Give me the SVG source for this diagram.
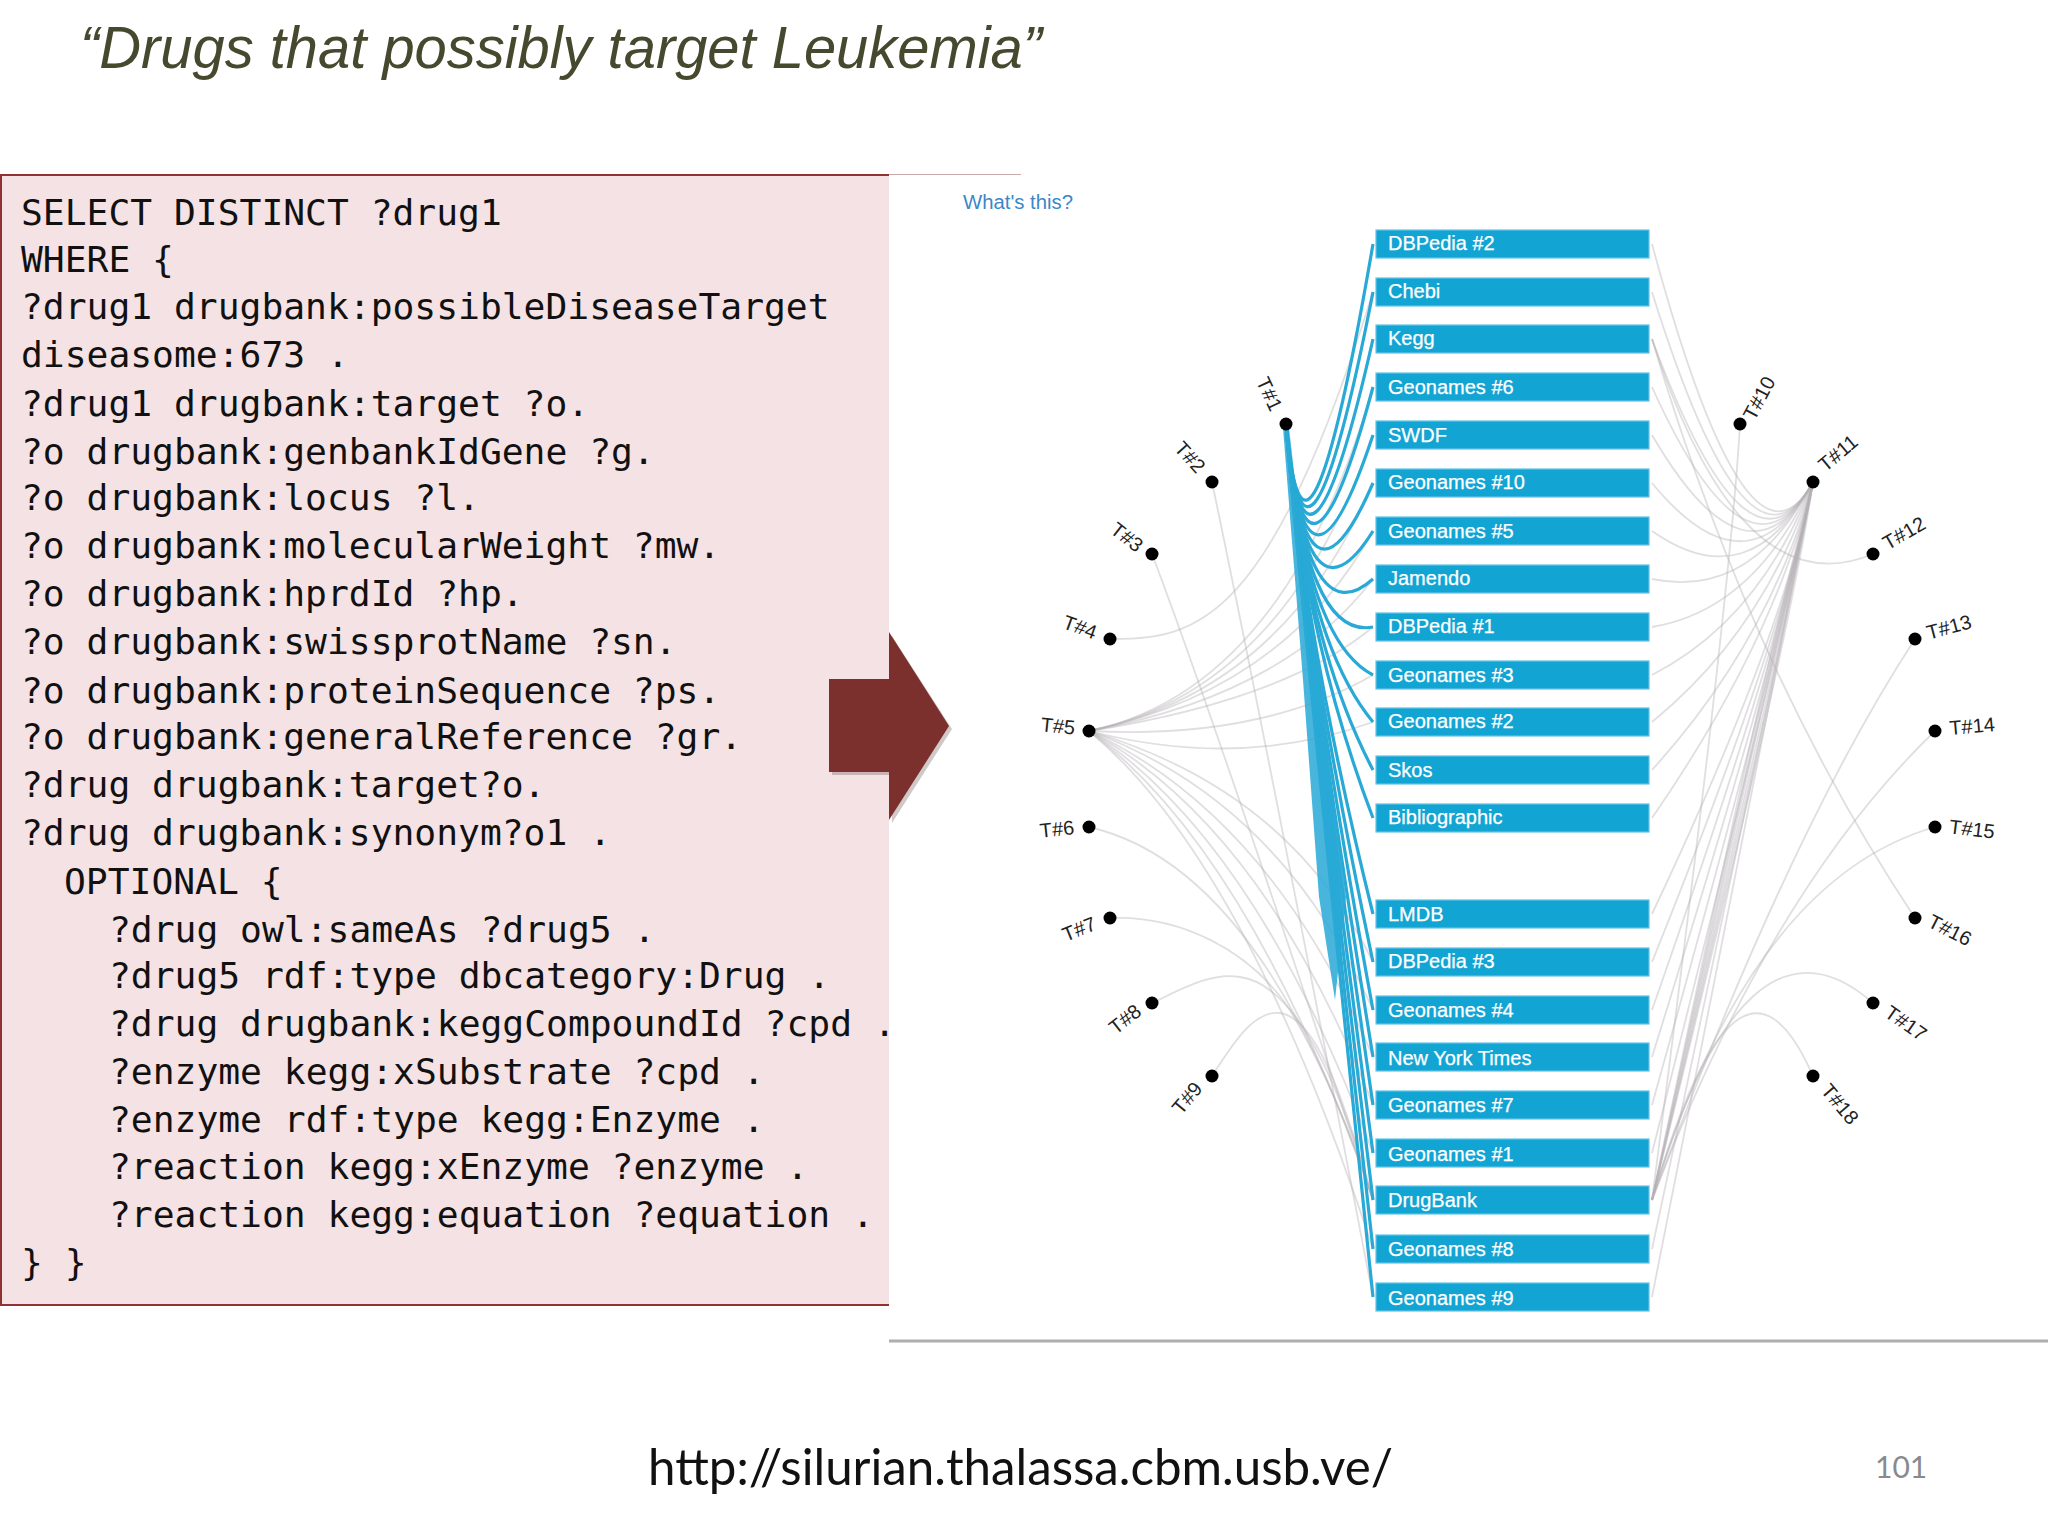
<svg xmlns="http://www.w3.org/2000/svg" width="2048" height="1536" viewBox="0 0 2048 1536">
<style>
.code{font-family:"DejaVu Sans Mono","Liberation Mono",monospace;font-size:36.3px;fill:#111;white-space:pre}
.bar{fill:#12a5d4;stroke:#62c3e6;stroke-width:1.2}
.bt{font-family:"Liberation Sans",Arial,sans-serif;font-size:20px;fill:#fff;stroke:#fff;stroke-width:.25}
.tl{font-family:"Liberation Sans",Arial,sans-serif;font-size:20px;fill:#222;text-anchor:middle}
.dot{fill:#000}
.gl{fill:none;stroke:#b5b1b5;stroke-width:1.8;stroke-opacity:.42}
.bl{fill:none;stroke:#28a9d6;stroke-width:3.2}
</style>
<rect width="2048" height="1536" fill="#fff"/>
<text id="title" x="80" y="68" font-family="'Liberation Sans',Arial,sans-serif" font-style="italic" font-size="60" fill="#47492f" textLength="962" lengthAdjust="spacingAndGlyphs">“Drugs that possibly target Leukemia”</text>
<g id="query">
<rect x="1" y="175" width="888" height="1130" fill="#f5e2e4"/>
<path d="M889,175H1 V1305 H889" fill="none" stroke="#8e3330" stroke-width="2"/>
<path d="M889,174.500H1021" fill="none" stroke="#c9a9ab" stroke-width="1"/>
<text class="code" x="21" y="225">SELECT DISTINCT ?drug1</text>
<text class="code" x="21" y="272">WHERE {</text>
<text class="code" x="21" y="319">?drug1 drugbank:possibleDiseaseTarget</text>
<text class="code" x="21" y="367">diseasome:673 .</text>
<text class="code" x="21" y="416">?drug1 drugbank:target ?o.</text>
<text class="code" x="21" y="464">?o drugbank:genbankIdGene ?g.</text>
<text class="code" x="21" y="510">?o drugbank:locus ?l.</text>
<text class="code" x="21" y="558">?o drugbank:molecularWeight ?mw.</text>
<text class="code" x="21" y="606">?o drugbank:hprdId ?hp.</text>
<text class="code" x="21" y="654">?o drugbank:swissprotName ?sn.</text>
<text class="code" x="21" y="703">?o drugbank:proteinSequence ?ps.</text>
<text class="code" x="21" y="749">?o drugbank:generalReference ?gr.</text>
<text class="code" x="21" y="797">?drug drugbank:target?o.</text>
<text class="code" x="21" y="845">?drug drugbank:synonym?o1 .</text>
<text class="code" x="64" y="894">OPTIONAL {</text>
<text class="code" x="109" y="942">?drug owl:sameAs ?drug5 .</text>
<text class="code" x="109" y="988">?drug5 rdf:type dbcategory:Drug .</text>
<text class="code" x="109" y="1036">?drug drugbank:keggCompoundId ?cpd .</text>
<text class="code" x="109" y="1084">?enzyme kegg:xSubstrate ?cpd .</text>
<text class="code" x="109" y="1132">?enzyme rdf:type kegg:Enzyme .</text>
<text class="code" x="109" y="1179">?reaction kegg:xEnzyme ?enzyme .</text>
<text class="code" x="109" y="1227">?reaction kegg:equation ?equation .</text>
<text class="code" x="21" y="1275">} }</text>
</g>
<polygon points="832,683 892,683 892,636 952,729 892,823 892,775 832,775" fill="#5a3a38" fill-opacity=".28"/>
<polygon id="arrow" points="829,679 889,679 889,632 949,726 889,820 889,772 829,772" fill="#7b302d"/>
<text id="whats" x="963" y="209" font-family="'Liberation Sans',Arial,sans-serif" font-size="20" fill="#3b87c8" textLength="110" lengthAdjust="spacingAndGlyphs">What's this?</text>
<path id="baseline" d="M889,1341H2048" stroke="#aeaeae" stroke-width="3" fill="none"/>
<g id="connectors">
<g class="grey-left">
<path class="gl" d="M1110,639C1200,640 1270,620 1373,292"/>
<path class="gl" d="M1089,731Q1285,690 1373,387"/>
<path class="gl" d="M1089,731Q1285,690 1373,435"/>
<path class="gl" d="M1089,731Q1285,690 1373,483"/>
<path class="gl" d="M1089,731Q1285,690 1373,531"/>
<path class="gl" d="M1089,731Q1285,695 1373,579"/>
<path class="gl" d="M1089,731Q1285,700 1373,627"/>
<path class="gl" d="M1089,731Q1260,740 1373,675"/>
<path class="gl" d="M1089,731Q1240,770 1373,722"/>
<path class="gl" d="M1089,731Q1290,790 1373,962"/>
<path class="gl" d="M1089,731Q1280,800 1373,1010"/>
<path class="gl" d="M1089,731Q1270,815 1373,1057"/>
<path class="gl" d="M1089,731Q1262,825 1373,1105"/>
<path class="gl" d="M1089,731Q1255,838 1373,1153"/>
<path class="gl" d="M1089,731Q1250,850 1373,1200"/>
<path class="gl" d="M1089,731Q1245,860 1373,1249"/>
<path class="gl" d="M1212,482Q1262,720 1373,1297"/>
<path class="gl" d="M1152,554Q1215,720 1373,1200"/>
<path class="gl" d="M1089,827C1190,850 1290,950 1373,1200"/>
<path class="gl" d="M1110,918C1180,915 1250,950 1290,1010C1320,1060 1350,1130 1373,1200"/>
<path class="gl" d="M1152,1003C1180,990 1210,972 1240,977C1300,985 1345,1100 1373,1200"/>
<path class="gl" d="M1212,1076C1235,1040 1255,1010 1280,1013C1320,1018 1350,1120 1373,1200"/>
</g>
<g class="blue">
<path d="M1283,428L1289,428L1318,680L1346,897L1335,1000L1319,897L1303,680Z" fill="#28a9d6" fill-opacity=".85"/>
<path class="bl" d="M1286,424Q1305,640 1373,244"/>
<path class="bl" d="M1286,424Q1305,640 1373,292"/>
<path class="bl" d="M1286,424Q1305,640 1373,339"/>
<path class="bl" d="M1286,424Q1305,640 1373,387"/>
<path class="bl" d="M1286,424Q1305,640 1373,435"/>
<path class="bl" d="M1286,424Q1305,640 1373,483"/>
<path class="bl" d="M1286,424Q1305,640 1373,531"/>
<path class="bl" d="M1286,424Q1305,640 1373,579"/>
<path class="bl" d="M1286,424Q1305,640 1373,627"/>
<path class="bl" d="M1286,424Q1305,640 1373,675"/>
<path class="bl" d="M1286,424Q1305,640 1373,722"/>
<path class="bl" d="M1286,424Q1305,640 1373,770"/>
<path class="bl" d="M1286,424Q1305,640 1373,818"/>
<path class="bl" d="M1286,424Q1305,640 1373,914"/>
<path class="bl" d="M1286,424Q1305,640 1373,962"/>
<path class="bl" d="M1286,424Q1305,640 1373,1010"/>
<path class="bl" d="M1286,424Q1305,640 1373,1057"/>
<path class="bl" d="M1286,424Q1305,640 1373,1105"/>
<path class="bl" d="M1286,424Q1305,640 1373,1153"/>
<path class="bl" d="M1286,424Q1305,640 1373,1200"/>
<path class="bl" d="M1286,424Q1305,640 1373,1249"/>
<path class="bl" d="M1286,424Q1305,640 1373,1297"/>
</g>
<g class="grey-right">
<path class="gl" d="M1813,482Q1748,600 1652,244"/>
<path class="gl" d="M1813,482Q1748,600 1652,292"/>
<path class="gl" d="M1813,482Q1748,600 1652,339"/>
<path class="gl" d="M1813,482Q1748,600 1652,387"/>
<path class="gl" d="M1813,482Q1748,600 1652,435"/>
<path class="gl" d="M1813,482Q1748,600 1652,483"/>
<path class="gl" d="M1813,482Q1750,600 1652,531"/>
<path class="gl" d="M1813,482Q1752,600 1652,579"/>
<path class="gl" d="M1813,482Q1755,610 1652,627"/>
<path class="gl" d="M1813,482Q1760,620 1652,675"/>
<path class="gl" d="M1813,482Q1765,630 1652,722"/>
<path class="gl" d="M1813,482Q1770,640 1652,770"/>
<path class="gl" d="M1813,482Q1775,640 1652,818"/>
<path class="gl" d="M1813,482Q1782,640 1652,914"/>
<path class="gl" d="M1813,482Q1782,640 1652,962"/>
<path class="gl" d="M1813,482Q1782,640 1652,1010"/>
<path class="gl" d="M1813,482Q1782,640 1652,1057"/>
<path class="gl" d="M1813,482Q1782,640 1652,1105"/>
<path class="gl" d="M1813,482Q1782,640 1652,1153"/>
<path class="gl" d="M1813,482Q1782,640 1652,1200"/>
<path class="gl" d="M1813,482Q1786,640 1652,1200"/>
<path class="gl" d="M1813,482Q1790,640 1652,1200"/>
<path class="gl" d="M1813,482Q1778,640 1652,1200"/>
<path class="gl" d="M1813,482Q1774,640 1652,1200"/>
<path class="gl" d="M1813,482Q1770,640 1652,1200"/>
<path class="gl" d="M1813,482Q1782,640 1652,1249"/>
<path class="gl" d="M1813,482Q1782,640 1652,1297"/>
<path class="gl" d="M1740,424Q1730,600 1652,1200"/>
<path class="gl" d="M1873,554Q1740,610 1652,339"/>
<path class="gl" d="M1915,639Q1790,830 1652,1200"/>
<path class="gl" d="M1935,731Q1770,890 1652,1200"/>
<path class="gl" d="M1935,827Q1750,880 1652,1200"/>
<path class="gl" d="M1915,918Q1750,670 1652,339"/>
<path class="gl" d="M1873,1003Q1745,890 1652,1200"/>
<path class="gl" d="M1813,1076Q1738,905 1652,1200"/>
</g>
</g>
<g id="sources">
<g id="s-dbpedia2"><rect class="bar" x="1376" y="230" width="273" height="28"/><text class="bt" x="1388" y="250">DBPedia #2</text></g>
<g id="s-chebi"><rect class="bar" x="1376" y="278" width="273" height="28"/><text class="bt" x="1388" y="298">Chebi</text></g>
<g id="s-kegg"><rect class="bar" x="1376" y="325" width="273" height="28"/><text class="bt" x="1388" y="345">Kegg</text></g>
<g id="s-geonames6"><rect class="bar" x="1376" y="373" width="273" height="28"/><text class="bt" x="1388" y="394">Geonames #6</text></g>
<g id="s-swdf"><rect class="bar" x="1376" y="421" width="273" height="28"/><text class="bt" x="1388" y="442">SWDF</text></g>
<g id="s-geonames10"><rect class="bar" x="1376" y="469" width="273" height="28"/><text class="bt" x="1388" y="489">Geonames #10</text></g>
<g id="s-geonames5"><rect class="bar" x="1376" y="517" width="273" height="28"/><text class="bt" x="1388" y="538">Geonames #5</text></g>
<g id="s-jamendo"><rect class="bar" x="1376" y="565" width="273" height="28"/><text class="bt" x="1388" y="585">Jamendo</text></g>
<g id="s-dbpedia1"><rect class="bar" x="1376" y="613" width="273" height="28"/><text class="bt" x="1388" y="633">DBPedia #1</text></g>
<g id="s-geonames3"><rect class="bar" x="1376" y="661" width="273" height="28"/><text class="bt" x="1388" y="682">Geonames #3</text></g>
<g id="s-geonames2"><rect class="bar" x="1376" y="708" width="273" height="28"/><text class="bt" x="1388" y="728">Geonames #2</text></g>
<g id="s-skos"><rect class="bar" x="1376" y="756" width="273" height="28"/><text class="bt" x="1388" y="777">Skos</text></g>
<g id="s-bibliographic"><rect class="bar" x="1376" y="804" width="273" height="28"/><text class="bt" x="1388" y="824">Bibliographic</text></g>
<g id="s-lmdb"><rect class="bar" x="1376" y="900" width="273" height="28"/><text class="bt" x="1388" y="921">LMDB</text></g>
<g id="s-dbpedia3"><rect class="bar" x="1376" y="948" width="273" height="28"/><text class="bt" x="1388" y="968">DBPedia #3</text></g>
<g id="s-geonames4"><rect class="bar" x="1376" y="996" width="273" height="28"/><text class="bt" x="1388" y="1017">Geonames #4</text></g>
<g id="s-nyt"><rect class="bar" x="1376" y="1043" width="273" height="28"/><text class="bt" x="1388" y="1065">New York Times</text></g>
<g id="s-geonames7"><rect class="bar" x="1376" y="1091" width="273" height="28"/><text class="bt" x="1388" y="1112">Geonames #7</text></g>
<g id="s-geonames1"><rect class="bar" x="1376" y="1139" width="273" height="28"/><text class="bt" x="1388" y="1161">Geonames #1</text></g>
<g id="s-drugbank"><rect class="bar" x="1376" y="1186" width="273" height="28"/><text class="bt" x="1388" y="1207">DrugBank</text></g>
<g id="s-geonames8"><rect class="bar" x="1376" y="1235" width="273" height="28"/><text class="bt" x="1388" y="1256">Geonames #8</text></g>
<g id="s-geonames9"><rect class="bar" x="1376" y="1283" width="273" height="28"/><text class="bt" x="1388" y="1305">Geonames #9</text></g>
</g>
<g id="t1"><circle class="dot" cx="1286" cy="424" r="6.500"/><text class="tl" transform="translate(1269.500,394) rotate(65)" y="7">T#1</text></g>
<g id="t2"><circle class="dot" cx="1212" cy="482" r="6.500"/><text class="tl" transform="translate(1190,457) rotate(48)" y="7">T#2</text></g>
<g id="t3"><circle class="dot" cx="1152" cy="554" r="6.500"/><text class="tl" transform="translate(1127,537) rotate(38)" y="7">T#3</text></g>
<g id="t4"><circle class="dot" cx="1110" cy="639" r="6.500"/><text class="tl" transform="translate(1080,627) rotate(20)" y="7">T#4</text></g>
<g id="t5"><circle class="dot" cx="1089" cy="731" r="6.500"/><text class="tl" transform="translate(1058,726) rotate(6)" y="7">T#5</text></g>
<g id="t6"><circle class="dot" cx="1089" cy="827" r="6.500"/><text class="tl" transform="translate(1057,829) rotate(-6)" y="7">T#6</text></g>
<g id="t7"><circle class="dot" cx="1110" cy="918" r="6.500"/><text class="tl" transform="translate(1079,929) rotate(-22)" y="7">T#7</text></g>
<g id="t8"><circle class="dot" cx="1152" cy="1003" r="6.500"/><text class="tl" transform="translate(1125,1019) rotate(-38)" y="7">T#8</text></g>
<g id="t9"><circle class="dot" cx="1212" cy="1076" r="6.500"/><text class="tl" transform="translate(1187,1098) rotate(-50)" y="7">T#9</text></g>
<g id="t10"><circle class="dot" cx="1740" cy="424" r="6.500"/><text class="tl" transform="translate(1759,398) rotate(-62)" y="7">T#10</text></g>
<g id="t11"><circle class="dot" cx="1813" cy="482" r="6.500"/><text class="tl" transform="translate(1838,453) rotate(-40)" y="7">T#11</text></g>
<g id="t12"><circle class="dot" cx="1873" cy="554" r="6.500"/><text class="tl" transform="translate(1904,533) rotate(-30)" y="7">T#12</text></g>
<g id="t13"><circle class="dot" cx="1915" cy="639" r="6.500"/><text class="tl" transform="translate(1949,627) rotate(-15)" y="7">T#13</text></g>
<g id="t14"><circle class="dot" cx="1935" cy="731" r="6.500"/><text class="tl" transform="translate(1972,726) rotate(-5)" y="7">T#14</text></g>
<g id="t15"><circle class="dot" cx="1935" cy="827" r="6.500"/><text class="tl" transform="translate(1972,829) rotate(7)" y="7">T#15</text></g>
<g id="t16"><circle class="dot" cx="1915" cy="918" r="6.500"/><text class="tl" transform="translate(1950,930) rotate(27)" y="7">T#16</text></g>
<g id="t17"><circle class="dot" cx="1873" cy="1003" r="6.500"/><text class="tl" transform="translate(1906,1023) rotate(35)" y="7">T#17</text></g>
<g id="t18"><circle class="dot" cx="1813" cy="1076" r="6.500"/><text class="tl" transform="translate(1840,1104) rotate(50)" y="7">T#18</text></g>
<text id="url" x="648" y="1485" font-family="Lato,'Open Sans',sans-serif" font-size="50" fill="#111" textLength="745" lengthAdjust="spacingAndGlyphs">http://silurian.thalassa.cbm.usb.ve/</text>
<text id="page" x="1875" y="1478" font-family="Lato,'Open Sans',sans-serif" font-size="30" fill="#8a8a8e">101</text>
</svg>
